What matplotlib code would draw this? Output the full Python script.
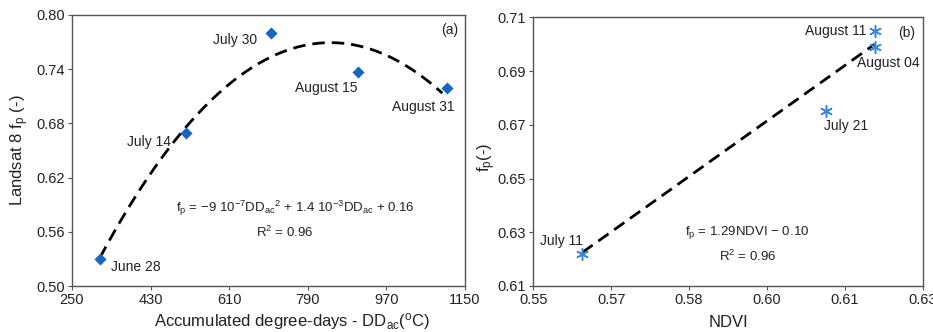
import numpy as np
import matplotlib
matplotlib.use("Agg")
import matplotlib.pyplot as plt

plt.rcParams['font.family'] = ['Liberation Sans', 'DejaVu Sans']
plt.rcParams['mathtext.fontset'] = 'custom'
plt.rcParams['mathtext.rm'] = 'Liberation Sans'
plt.rcParams['mathtext.it'] = 'Liberation Sans:italic'
plt.rcParams['mathtext.default'] = 'regular'

# Panel (a): accumulated degree-days vs Landsat 8 fp
dd_dates = ["June 28", "July 14", "July 30", "August 15", "August 31"]
dd_values = [314, 510, 705, 906, 1108]
dd_fp = [0.530, 0.669, 0.780, 0.737, 0.719]

# Panel (b): NDVI vs fp
ndvi_dates = ["July 11", "July 21", "August 04", "August 11"]
ndvi_values = [0.5601, 0.6101, 0.6201, 0.6201]
ndvi_fp = [0.622, 0.675, 0.699, 0.705]
lin_slope, lin_icept = 1.29, -0.10

dd_ticks = [250, 430, 610, 790, 970, 1150]
fp_ticks_a = [0.50, 0.56, 0.62, 0.68, 0.74, 0.80]
ndvi_ticks = np.linspace(0.55, 0.63, 6)
fp_ticks_b = [0.61, 0.63, 0.65, 0.67, 0.69, 0.71]

W, H = 933, 332
fig = plt.figure(figsize=(W / 100, H / 100), dpi=100)
ax1 = fig.add_axes([72 / W, 1 - 286 / H, 393 / W, 271 / H])
ax2 = fig.add_axes([533.3 / W, 1 - 286 / H, 389.4 / W, 268.7 / H])

spine_col = '#555555'
text_col = '#222222'
dash = (0, (4.5, 2.5))
for ax in (ax1, ax2):
    for s in ax.spines.values():
        s.set_color(spine_col)
        s.set_linewidth(1.0)
    ax.tick_params(direction='out', length=3, width=0.8, color=spine_col,
                   labelsize=10.5, labelcolor=text_col, pad=2)

# ---- panel (a)
coef = np.polyfit(dd_values, dd_fp, 2)
xs = np.linspace(min(dd_values), 1098, 200)
ax1.plot(xs, np.polyval(coef, xs), color='black', lw=2.0, ls=dash, zorder=2)
ax1.scatter(dd_values, dd_fp, marker='D', s=38, color='#1766c4', zorder=3, linewidths=0)

offs_a = [(11, -8, 'left'), (-15, -9, 'right'), (-14, -7, 'right'),
          (-1, -16, 'right'), (8, -19, 'right')]
for lab, x, y, (dx, dy, ha) in zip(dd_dates, dd_values, dd_fp, offs_a):
    ax1.annotate(lab, (x, y), xytext=(dx * 0.72, dy * 0.72), textcoords='offset points',
                 ha=ha, va='center', fontsize=10, color=text_col)

ax1.set_xlim(250, 1150)
ax1.set_ylim(0.50, 0.80)
ax1.set_xticks(dd_ticks)
ax1.set_yticks(fp_ticks_a)
ax1.yaxis.set_major_formatter(matplotlib.ticker.FormatStrFormatter('%.2f'))
ax1.set_xlabel(r'Accumulated degree-days - DD$_{ac}$($^{o}$C)', fontsize=12, color=text_col)
ax1.xaxis.set_label_coords(0.56, -0.092)
ax1.set_ylabel(r'Landsat 8 f$_{p}$ (-)', fontsize=12, color=text_col, labelpad=4)
ax1.text(0.982, 0.945, '(a)', transform=ax1.transAxes, ha='right', va='center',
         fontsize=10, color=text_col)
ax1.text(761, 0.5856, r'f$_{p}$ = $-$9 10$^{-7}$DD$_{ac}$$^{2}$ + 1.4 10$^{-3}$DD$_{ac}$ + 0.16',
         ha='center', va='center', fontsize=9.5, color=text_col)
ax1.text(738, 0.559, r'R$^{2}$ = 0.96', ha='center', va='center', fontsize=9.5, color=text_col)

# ---- panel (b)
xl = np.array([min(ndvi_values), max(ndvi_values)])
ax2.plot(xl, lin_slope * xl + lin_icept, color='black', lw=2.0, ls=dash, zorder=2)
ax2.scatter(ndvi_values, ndvi_fp, marker=(6, 2, 0), s=70, color='#3a86d8',
            linewidths=1.1, zorder=3)

offs_b = [(0, 13, 'right'), (-2, -15, 'left'), (-17.6, -16, 'left'), (-8, 0, 'right')]
for lab, x, y, (dx, dy, ha) in zip(ndvi_dates, ndvi_values, ndvi_fp, offs_b):
    ax2.annotate(lab, (x, y), xytext=(dx * 0.72, dy * 0.72), textcoords='offset points',
                 ha=ha, va='center', fontsize=10, color=text_col)

ax2.set_xlim(0.55, 0.63)
ax2.set_ylim(0.61, 0.71)
ax2.set_xticks(ndvi_ticks)
ax2.set_yticks(fp_ticks_b)
ax2.xaxis.set_major_formatter(matplotlib.ticker.FormatStrFormatter('%.2f'))
ax2.yaxis.set_major_formatter(matplotlib.ticker.FormatStrFormatter('%.2f'))
ax2.set_xlabel('NDVI', fontsize=12, color=text_col, labelpad=6)
ax2.set_ylabel(r'f$_{p}$(-)', fontsize=12, color=text_col)
ax2.yaxis.set_label_coords(-0.09, 0.48)
ax2.text(0.98, 0.942, '(b)', transform=ax2.transAxes, ha='right', va='center',
         fontsize=10, color=text_col)
ax2.text(0.594, 0.630, r'f$_{p}$ = 1.29NDVI $-$ 0.10', ha='center', va='center',
         fontsize=9.5, color=text_col)
ax2.text(0.594, 0.621, r'R$^{2}$ = 0.96', ha='center', va='center', fontsize=9.5, color=text_col)

fig.savefig('out.png', dpi=100)
